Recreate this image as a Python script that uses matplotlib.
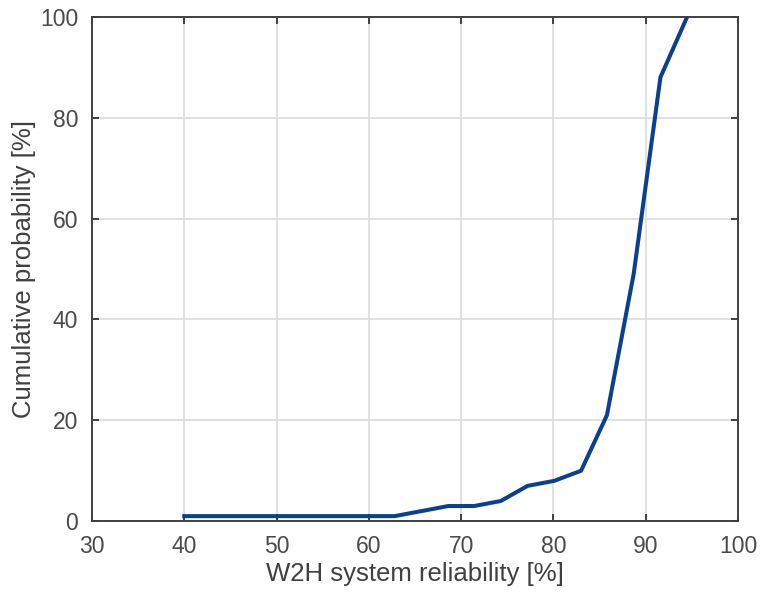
import matplotlib
matplotlib.use('Agg')
import matplotlib.pyplot as plt

# reliability [%] vs cumulative probability [%]
reliability = [40, 62.8, 65.7, 68.6, 71.4, 74.3, 77.2, 80.1, 83.0, 85.8, 88.7, 91.6, 94.5]
cum_prob = [1, 1, 2, 3, 3, 4, 7, 8, 10, 21, 49, 88, 100]

xticks = [30, 40, 50, 60, 70, 80, 90, 100]
yticks = [0, 20, 40, 60, 80, 100]

plt.rcParams['font.family'] = ['Liberation Sans', 'DejaVu Sans']

fig = plt.figure(figsize=(7.6, 5.97), dpi=100)
ax = fig.add_axes([0.121, 0.127, 0.850, 0.845])

ax.plot(reliability, cum_prob, color='#0b3f8f', linewidth=2.9, zorder=3)

ax.set_xlim(30, 100)
ax.set_ylim(0, 100)
ax.set_xticks(xticks)
ax.set_yticks(yticks)
ax.grid(True, color='#dedede', linewidth=1.3)
ax.set_axisbelow(True)

for s in ax.spines.values():
    s.set_color('#404040')
    s.set_linewidth(1.4)
ax.tick_params(direction='in', top=True, right=True, length=5, width=1.4,
               color='#404040', labelsize=16.5, labelcolor='#4a4a4a', pad=10)

ax.set_xlabel('W2H system reliability [%]', fontsize=18.5, color='#404040', labelpad=3)
ax.set_ylabel('Cumulative probability [%]', fontsize=18.5, color='#404040', labelpad=3)

fig.savefig('out.png', dpi=100)
